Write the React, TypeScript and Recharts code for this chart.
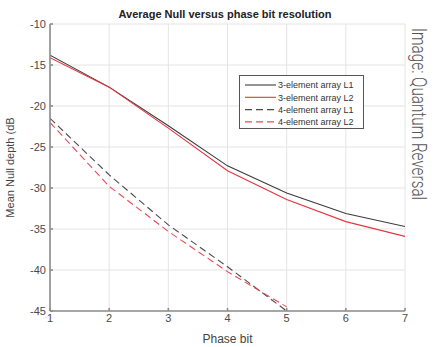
import { CartesianGrid, Label, Line, LineChart, XAxis, YAxis } from 'recharts';

const phaseBits = [1, 2, 3, 4, 5, 6, 7];
const phaseBits4 = [1, 2, 3, 4, 5];
const threeElemL1 = [-13.8, -17.7, -22.4, -27.3, -30.6, -33.1, -34.7];
const threeElemL2 = [-14.1, -17.7, -22.7, -27.9, -31.4, -34.1, -35.9];
const fourElemL1 = [-21.5, -28.4, -34.5, -39.6, -45.0];
const fourElemL2 = [-22.0, -29.8, -35.3, -40.2, -44.5];
const xTicks = [1, 2, 3, 4, 5, 6, 7];
const yTicks = [-45, -40, -35, -30, -25, -20, -15, -10];

const toPoints = (xs: number[], ys: number[]) => xs.map((bit, i) => ({ bit, depth: ys[i] }));

const series = [
  { name: '3-element array L1', data: toPoints(phaseBits, threeElemL1), color: '#3c3c3c', dash: undefined },
  { name: '3-element array L2', data: toPoints(phaseBits, threeElemL2), color: '#e8343f', dash: undefined },
  { name: '4-element array L1', data: toPoints(phaseBits4, fourElemL1), color: '#4a4a4a', dash: '7 4' },
  { name: '4-element array L2', data: toPoints(phaseBits4, fourElemL2), color: '#ea4a58', dash: '7 4' }
];

const font = '"Liberation Sans", Arial, sans-serif';
const tickStyle = { fill: '#4a4a4a', fontSize: 11, fontFamily: font };
const frame = '#8c8c8c';

export default function App() {
  return (
    <div style={{ position: 'absolute', left: 0, top: 0, width: 434, height: 347, background: '#fff' }}>
      <LineChart width={434} height={347} margin={{ top: 24, right: 29, bottom: 0, left: 20 }}>
        <CartesianGrid stroke="#e4e4e4" strokeWidth={1} />
        <XAxis
          type="number"
          dataKey="bit"
          domain={[1, 7]}
          ticks={xTicks}
          allowDataOverflow
          height={36}
          stroke={frame}
          strokeWidth={1.6}
          tickSize={-3}
          tickMargin={6}
          tick={tickStyle}
        >
          <Label value="Phase bit" position="insideBottom" offset={4} style={{ fill: '#444', fontSize: 12, fontFamily: font }} />
        </XAxis>
        <XAxis
          xAxisId="top"
          orientation="top"
          type="number"
          dataKey="bit"
          domain={[1, 7]}
          ticks={xTicks}
          height={0}
          stroke={frame}
          strokeWidth={1.6}
          tickSize={-3}
          tick={false}
        />
        <YAxis
          type="number"
          domain={[-45, -10]}
          ticks={yTicks}
          allowDataOverflow
          width={30}
          stroke={frame}
          strokeWidth={1.6}
          tickSize={-3}
          tickMargin={7}
          tick={tickStyle}
        >
          <Label
            value="Mean Null depth (dB"
            angle={-90}
            position="insideLeft"
            offset={-10}
            style={{ fill: '#444', fontSize: 11, fontFamily: font, textAnchor: 'middle' }}
          />
        </YAxis>
        <YAxis
          yAxisId="right"
          orientation="right"
          type="number"
          domain={[-45, -10]}
          ticks={yTicks}
          width={0}
          stroke={frame}
          strokeWidth={1.6}
          tickSize={-3}
          tick={false}
        />
        {series.map((s) => (
          <Line
            key={s.name}
            data={s.data}
            dataKey="depth"
            type="linear"
            stroke={s.color}
            strokeWidth={1.1}
            strokeDasharray={s.dash}
            dot={false}
            isAnimationActive={false}
          />
        ))}
      </LineChart>
      <svg width={434} height={347} style={{ position: 'absolute', left: 0, top: 0, pointerEvents: 'none' }}>
        <text x={225} y={18} textAnchor="middle" fontFamily={font} fontSize={11} fontWeight="bold" fill="#222">
          Average Null versus phase bit resolution
        </text>
        <g transform="translate(239,75)">
          <rect x={0.5} y={0.5} width={124} height={53} fill="#fff" stroke="#555" strokeWidth={1} />
          {series.map((s, i) => (
            <g key={s.name} transform={`translate(0,${10 + i * 12.3})`}>
              <line x1={6} x2={37} y1={0} y2={0} stroke={s.color} strokeWidth={1.1} strokeDasharray={s.dash} />
              <text x={39} y={3.2} fontFamily={font} fontSize={9} fill="#333">
                {s.name}
              </text>
            </g>
          ))}
        </g>
        <text
          transform="translate(412,28) rotate(90)"
          fontFamily="Roboto, sans-serif"
          fontWeight={300}
          fontSize={20}
          fill="#555"
          textLength={172}
          lengthAdjust="spacingAndGlyphs"
        >
          Image: Quantum Reversal
        </text>
      </svg>
    </div>
  );
}
